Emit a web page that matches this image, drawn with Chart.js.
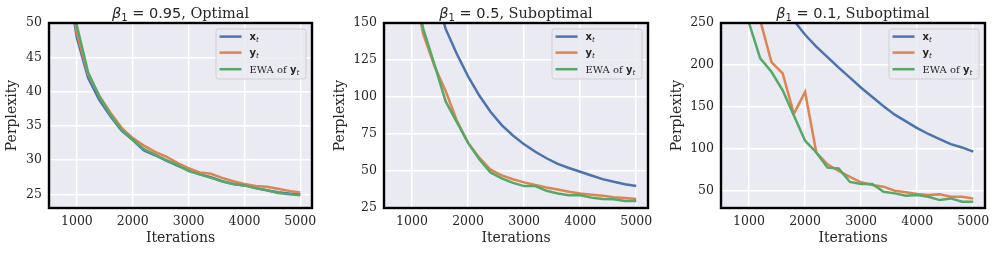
<!DOCTYPE html>
<html>
<head>
<meta charset="utf-8">
<script src="https://cdn.jsdelivr.net/npm/chart.js@4/dist/chart.umd.min.js"></script>
<style>
  html, body { margin: 0; padding: 0; background: #ffffff; }
  #wrap { position: relative; width: 996px; height: 253px; overflow: hidden; }
  canvas { position: absolute; top: 0; }
</style>
</head>
<body>
<div id="wrap">
  <canvas id="c1"></canvas>
  <canvas id="c2"></canvas>
  <canvas id="c3"></canvas>
</div>
<script>
// ---------- data ----------
const iterations = [600, 800, 1000, 1200, 1400, 1600, 1800, 2000, 2200, 2400, 2600, 2800,
                    3000, 3200, 3400, 3600, 3800, 4000, 4200, 4400, 4600, 4800, 5000];
const xTickLabels = [1000, 2000, 3000, 4000, 5000];
const seriesNames = ['x', 'y', 'EWA of y'];

// beta1 = 0.95, Optimal
const p1Titles = ['0.95', 'Optimal'];
const p1X   = [75, 58, 47.8, 42.0, 38.8, 36.4, 34.3, 32.9, 31.4, 30.7, 29.9, 29.2, 28.5, 27.9, 27.5, 26.9, 26.5, 26.3, 25.9, 25.6, 25.3, 25.1, 25.0];
const p1Y   = [76, 59, 48.5, 42.5, 39.4, 36.9, 34.7, 33.2, 32.1, 31.2, 30.5, 29.6, 28.8, 28.2, 28.0, 27.4, 26.9, 26.5, 26.2, 26.1, 25.8, 25.5, 25.25];
const p1EWA = [78, 61, 49.6, 42.8, 39.3, 36.6, 34.4, 33.0, 31.6, 30.8, 30.0, 29.3, 28.4, 27.9, 27.4, 26.9, 26.5, 26.3, 25.9, 25.6, 25.2, 25.0, 24.85];
const p1YTicks = [25, 30, 35, 40, 45, 50];

// beta1 = 0.5, Suboptimal
const p2Titles = ['0.5', 'Suboptimal'];
const p2X   = [390, 310, 250, 205, 172, 146, 129, 114, 101, 90, 81, 74, 68, 63, 58.6, 54.8, 52, 49.5, 47, 44.5, 42.7, 41.1, 39.8];
const p2Y   = [320, 240, 180, 142.5, 121, 104, 84, 69, 59, 51, 47, 44.4, 42.3, 40.5, 38.9, 37.5, 36, 34.8, 34, 33.2, 32.3, 31.7, 31.1];
const p2EWA = [330, 245, 185, 146, 122, 97, 83, 69, 57.9, 49, 45, 42, 39.8, 39.8, 36.6, 34.8, 33.6, 33.6, 32, 31.1, 30.9, 29.8, 29.8];
const p2YTicks = [25, 50, 75, 100, 125, 150];

// beta1 = 0.1, Suboptimal
const p3Titles = ['0.1', 'Suboptimal'];
const p3X   = [540, 470, 410, 360, 316, 280, 253, 236, 222, 209.5, 197, 185, 173, 162, 151, 141, 133, 125, 118, 112, 106, 102, 97];
const p3Y   = [480, 380, 300, 253, 203.6, 190, 142, 168, 96, 82, 74, 67, 60.6, 57.4, 55.4, 50.6, 48.6, 46.6, 45.4, 46.2, 43.4, 43.4, 41.4];
const p3EWA = [420, 320, 250, 208, 192, 170, 140, 110, 96, 78, 77, 61, 58.6, 58.6, 49.4, 47.4, 44.6, 45.4, 43.4, 39.4, 41.4, 37.5, 37.5];
const p3YTicks = [50, 100, 150, 200, 250];

// ---------- style ----------
const COLORS = ['#4C72B0', '#DD8452', '#55A868'];
const BG = '#EAEAF2';
const TXT = '#262626';
const SERIF = "'DejaVu Serif', serif";
const SANS = "'DejaVu Sans', sans-serif";

const panels = [
  { id: 'c1', left: 0,   width: 316, yWidth: 49, yMin: 23,  yMax: 50,  yTicks: p1YTicks, series: [p1X, p1Y, p1EWA], title: p1Titles },
  { id: 'c2', left: 328, width: 324, yWidth: 56, yMin: 25,  yMax: 150, yTicks: p2YTicks, series: [p2X, p2Y, p2EWA], title: p2Titles },
  { id: 'c3', left: 665, width: 324, yWidth: 56, yMin: 30,  yMax: 250, yTicks: p3YTicks, series: [p3X, p3Y, p3EWA], title: p3Titles }
];

// background + frame + title + legend plugin
const decorPlugin = {
  id: 'decor',
  beforeDraw(chart) {
    const a = chart.chartArea, ctx = chart.ctx;
    ctx.save();
    ctx.fillStyle = BG;
    ctx.fillRect(a.left, a.top, a.right - a.left, a.bottom - a.top);
    ctx.restore();
  },
  afterDraw(chart) {
    const a = chart.chartArea, ctx = chart.ctx;
    const opt = chart.options.plugins.decor;
    ctx.save();
    // frame
    ctx.strokeStyle = '#000000';
    ctx.lineWidth = 2.4;
    ctx.strokeRect(a.left, a.top, a.right - a.left, a.bottom - a.top);

    // title: beta_1 = value, label
    const parts = [
      { t: '\u03B2', f: 'italic 14.5px ' + SANS, dy: 0 },
      { t: '1', f: '10px ' + SANS, dy: 3 },
      { t: ' = ' + opt.title[0], f: '14.5px ' + SANS, dy: 0 },
      { t: ', ' + opt.title[1], f: '14.5px ' + SERIF, dy: 0 }
    ];
    let total = 0;
    parts.forEach(p => { ctx.font = p.f; p.w = ctx.measureText(p.t).width; total += p.w; });
    let x = (a.left + a.right) / 2 - total / 2;
    const base = 18.3;
    ctx.fillStyle = TXT;
    ctx.textBaseline = 'alphabetic';
    ctx.textAlign = 'left';
    parts.forEach(p => { ctx.font = p.f; ctx.fillText(p.t, x, base + p.dy); x += p.w; });

    // legend
    const bw = 90, bh = 50;
    const bx = a.right - 6 - bw, by = a.top + 6;
    ctx.fillStyle = 'rgba(234,234,242,0.85)';
    ctx.strokeStyle = 'rgba(204,204,204,0.9)';
    ctx.lineWidth = 1;
    const r = 2.5;
    ctx.beginPath();
    ctx.moveTo(bx + r, by);
    ctx.lineTo(bx + bw - r, by); ctx.quadraticCurveTo(bx + bw, by, bx + bw, by + r);
    ctx.lineTo(bx + bw, by + bh - r); ctx.quadraticCurveTo(bx + bw, by + bh, bx + bw - r, by + bh);
    ctx.lineTo(bx + r, by + bh); ctx.quadraticCurveTo(bx, by + bh, bx, by + bh - r);
    ctx.lineTo(bx, by + r); ctx.quadraticCurveTo(bx, by, bx + r, by);
    ctx.closePath();
    ctx.fill(); ctx.stroke();

    const rows = [7.6, 23.6, 40.2];
    const labels = [
      [{ t: seriesNames[0], f: 'bold 10px ' + SANS, dy: 0 }, { t: 't', f: 'italic 7px ' + SANS, dy: 2 }],
      [{ t: seriesNames[1], f: 'bold 10px ' + SANS, dy: 0 }, { t: 't', f: 'italic 7px ' + SANS, dy: 2 }],
      [{ t: seriesNames[2].slice(0, 7), f: '10px ' + SERIF, dy: 0 }, { t: seriesNames[2].slice(7), f: 'bold 10px ' + SANS, dy: 0 }, { t: 't', f: 'italic 7px ' + SANS, dy: 2 }]
    ];
    rows.forEach((ry, i) => {
      const cy = by + ry;
      ctx.strokeStyle = COLORS[i];
      ctx.lineWidth = 2.5;
      ctx.beginPath();
      ctx.moveTo(bx + 3.5, cy);
      ctx.lineTo(bx + 25.5, cy);
      ctx.stroke();
      let tx = bx + 33.5;
      ctx.fillStyle = TXT;
      ctx.textBaseline = 'alphabetic';
      labels[i].forEach(p => {
        ctx.font = p.f;
        ctx.fillText(p.t, tx, cy + 3.6 + p.dy);
        tx += ctx.measureText(p.t).width;
      });
    });
    ctx.restore();
  }
};

function build(p) {
  const cv = document.getElementById(p.id);
  cv.width = p.width; cv.height = 253;
  cv.style.left = p.left + 'px';
  cv.style.width = p.width + 'px'; cv.style.height = '253px';
  const datasets = p.series.map((vals, i) => ({
    label: seriesNames[i],
    data: iterations.map((it, k) => ({ x: it, y: vals[k] })),
    borderColor: COLORS[i],
    backgroundColor: COLORS[i],
    borderWidth: 2.5,
    pointRadius: 0,
    tension: 0,
    fill: false,
    order: 2 - i
  }));
  new Chart(cv, {
    type: 'line',
    data: { datasets },
    plugins: [decorPlugin],
    options: {
      responsive: false,
      animation: false,
      devicePixelRatio: 1,
      layout: { padding: { top: 23, right: 4, bottom: 0, left: 0 } },
      plugins: {
        legend: { display: false },
        title: { display: false },
        tooltip: { enabled: false },
        decor: { title: p.title }
      },
      scales: {
        x: {
          type: 'linear',
          min: 500, max: 5210,
          afterBuildTicks: s => { s.ticks = xTickLabels.map(v => ({ value: v })); },
          afterFit: s => { s.height = 45; s.paddingLeft = 0; s.paddingRight = 0; },
          grid: { color: '#ffffff', lineWidth: 1.5, drawTicks: false },
          border: { display: false },
          ticks: { color: TXT, font: { family: SERIF, size: 12.5 }, padding: 6, maxRotation: 0, callback: v => String(v) },
          title: { display: true, text: 'Iterations', color: TXT, font: { family: SERIF, size: 14 }, padding: { top: 0, bottom: 6.3 } }
        },
        y: {
          min: p.yMin, max: p.yMax,
          afterBuildTicks: s => { s.ticks = p.yTicks.map(v => ({ value: v })); },
          afterFit: s => { s.width = p.yWidth; s.paddingTop = 0; s.paddingBottom = 0; },
          grid: { color: '#ffffff', lineWidth: 1.5, drawTicks: false },
          border: { display: false },
          ticks: { color: TXT, font: { family: SERIF, size: 12.5 }, padding: 7, callback: v => String(v) },
          title: { display: true, text: 'Perplexity', color: TXT, font: { family: SERIF, size: 14 }, padding: { top: 3.8, bottom: 0 } }
        }
      }
    }
  });
}
panels.forEach(build);
</script>
</body>
</html>
